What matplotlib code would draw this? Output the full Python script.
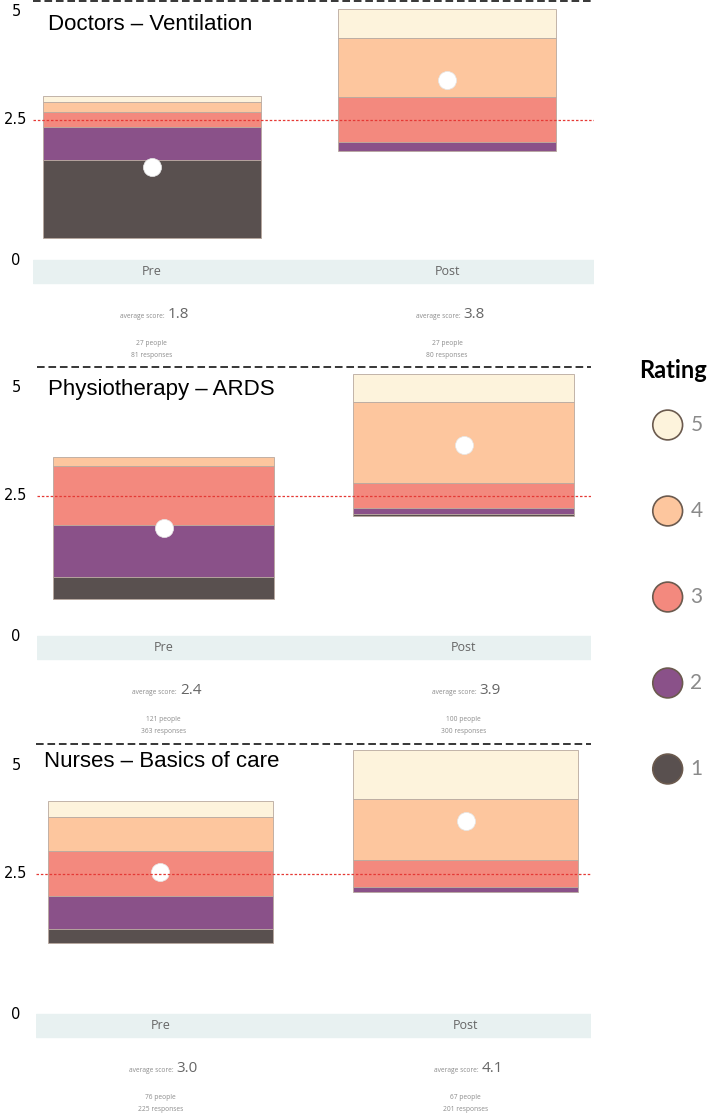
import matplotlib.pyplot as plt
from matplotlib import transforms

# ---- data ----
groups = ["Doctors – Ventilation", "Physiotherapy – ARDS", "Nurses – Basics of care"]
phases = ["Pre", "Post"]
ratings = [1, 2, 3, 4, 5]
# percentage of responses per rating (1..5)
pre_pct = [[55.4, 22.8, 11.1, 7.1, 3.6],
           [15.3, 37.2, 41.0, 6.5, 0.0],
           [9.9, 23.0, 32.2, 24.0, 11.0]]
post_pct = [[0.0, 6.6, 31.3, 42.0, 20.2],
            [1.2, 4.6, 17.0, 57.6, 19.6],
            [0.0, 3.1, 19.4, 43.0, 34.5]]
avg_pre = [1.8, 2.4, 3.0]
avg_post = [3.8, 3.9, 4.1]
people_pre = [27, 121, 76]
people_post = [27, 100, 67]
resp_pre = [81, 363, 225]
resp_post = [80, 300, 201]

colors = ["#59504f", "#8a5189", "#f3897e", "#fdc69e", "#fdf3dc"]

W, H = 714, 1113
S = 1.42  # px per percent point

# layout per panel (pixels): band left/right, pre/post centres, bar width, centre line, top, bottom
layout = [
    dict(bl=33, br=594, pre=151.7, post=447, bw=218, c=119.5, top=1.5, bot=366.7, tx=48, ty=30),
    dict(bl=36.7, br=590.7, pre=163.8, post=463.8, bw=221, c=495.5, top=366.7, bot=743.5, tx=48.5, ty=395),
    dict(bl=36, br=590.7, pre=160.2, post=465.7, bw=225, c=873.5, top=743.5, bot=1113, tx=44.5, ty=766.7),
]

fig = plt.figure(figsize=(W / 100, H / 100), dpi=100)
fig.patch.set_facecolor("white")

for g in range(3):
    L = layout[g]
    ax = fig.add_axes([L["bl"] / W, 1 - L["bot"] / H, (L["br"] - L["bl"]) / W, (L["bot"] - L["top"]) / H])
    d = L["post"] - L["pre"]
    ax.set_xlim((L["bl"] - L["pre"]) / d, 1 + (L["br"] - L["post"]) / d)
    ax.set_ylim(-(L["bot"] - L["c"]) / S, (L["c"] - L["top"]) / S)
    ax.axis("off")
    bw = L["bw"] / d

    for xi, pct in enumerate([pre_pct[g], post_pct[g]]):
        offset = -(pct[0] + pct[1] + pct[2] / 2)
        bottom = offset
        for k in range(5):
            if pct[k] > 0:
                ax.bar(xi, pct[k], bottom=bottom, width=bw, color=colors[k],
                       edgecolor="#b8a89e", linewidth=0.6, zorder=2)
            bottom += pct[k]
        ax.plot(xi, offset + 50, "o", ms=13, mfc="white", mec="#e6e6e6", mew=0.5, zorder=4)

    # centre line (2.5)
    ax.axhline(0, color="#e53935", ls=(0, (2, 1.5)), lw=0.9, zorder=5)
    # dashed separator at top of panel
    ax.axhline(ax.get_ylim()[1], color="black", ls=(0, (5, 2.5)), lw=1.1, clip_on=False, zorder=6)
    # grey band with phase labels
    ax.axhspan(-115, -99, color="#e8f1f1", zorder=0)

    for xi, ph in enumerate(phases):
        ax.text(xi, -107, ph, ha="center", va="center", fontsize=9, color="#666666", family="Open Sans")
        avg = [avg_pre, avg_post][xi][g]
        ppl = [people_pre, people_post][xi][g]
        rsp = [resp_pre, resp_post][xi][g]
        ax.annotate("average score:", xy=(xi, -140), xytext=(9.5, 0), textcoords="offset points",
                    ha="right", va="baseline", fontsize=4.8, color="#8c8c8c", family="Open Sans")
        ax.annotate(f"{avg:.1f}", xy=(xi, -140), xytext=(11.5, 0), textcoords="offset points",
                    ha="left", va="baseline", fontsize=11, color="#666666", family="Open Sans")
        ax.text(xi, -158, f"{ppl} people", ha="center", va="center", fontsize=4.8,
                color="#8c8c8c", family="Open Sans")
        ax.text(xi, -166, f"{rsp} responses", ha="center", va="center", fontsize=4.8,
                color="#8c8c8c", family="Open Sans")

    # pseudo y-axis labels
    tr = transforms.blended_transform_factory(fig.transFigure, ax.transData)
    for yv, lab in [(76, "5"), (0, "2.5"), (-99, "0")]:
        ax.text(16 / W, yv, lab, transform=tr, ha="center", va="center", fontsize=10.5,
                color="black", clip_on=False)

    fig.text(L["tx"] / W, 1 - L["ty"] / H, groups[g], ha="left", va="baseline",
             fontsize=16, family="Liberation Sans", color="black")

# legend
lax = fig.add_axes([640 / W, 1 - 812 / H, 74 / W, 430 / H])
lax.set_xlim(0, 1)
lax.set_ylim(0.5, 5.5)
lax.axis("off")
lax.scatter([0.374] * 5, ratings, s=460, c=colors, edgecolors="#6b5a4e", linewidths=1.2)
for r in ratings:
    lax.text(0.68, r, str(r), ha="left", va="center", fontsize=15, color="#8a8a8a", family="Lato")
fig.text(673 / W, 1 - 371 / H, "Rating", ha="center", va="center", fontsize=17, family="Lato",
         weight="bold")

fig.savefig("out.png", dpi=100)
